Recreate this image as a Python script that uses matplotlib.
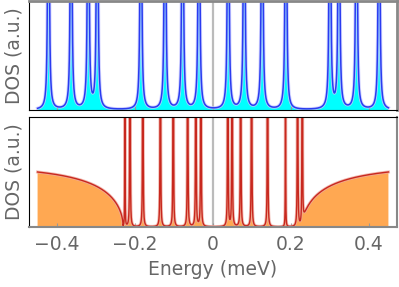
import numpy as np
import matplotlib
matplotlib.use("Agg")
import matplotlib.pyplot as plt

# peak energies (meV)
top_peaks = [-0.422, -0.364, -0.320, -0.297, -0.185, -0.123, -0.078, -0.036,
             0.039, 0.080, 0.126, 0.187, 0.300, 0.323, 0.368, 0.426]
bottom_peaks = [-0.213, -0.180, -0.135, -0.102, -0.065, -0.044, -0.031,
                0.038, 0.049, 0.071, 0.099, 0.140, 0.217, 0.229]
bottom_weak_peaks = [-0.226, 0.186]

# continuum: gap edge and height at band edge
gap = 0.231
cont_height = 0.5
e_min, e_max = -0.45, 0.45

# broadening / weight
top_gamma, top_amp = 0.001, 10.0
bot_gamma, bot_amp = 0.0003, 11.0
weak_gamma, weak_amp = 0.00015, 11.0

xticks = [-0.4, -0.2, 0, 0.2, 0.4]
xticklabels = ["\u22120.4", "\u22120.2", "0", "0.2", "0.4"]

E = np.linspace(e_min, e_max, 40001)


def lor(E, centers, gamma, amp):
    out = np.zeros_like(E)
    for c in centers:
        out += amp * gamma**2 / ((E - c)**2 + gamma**2)
    return out


dos_top = lor(E, top_peaks, top_gamma, top_amp)
cont = np.where(np.abs(E) > gap,
                cont_height * np.sqrt(np.clip(1 - gap**2 / np.maximum(E**2, 1e-12), 0, None)) / np.sqrt(1 - gap**2 / e_max**2),
                0.0)
dos_bot = cont + lor(E, bottom_peaks, bot_gamma, bot_amp) + lor(E, bottom_weak_peaks, weak_gamma, weak_amp)

W, H = 399, 287
fig = plt.figure(figsize=(W / 100, H / 100), dpi=100)
left, right = 29 / W, 397 / W
ax1 = fig.add_axes([left, 1 - 110 / H, right - left, 109 / H])
ax2 = fig.add_axes([left, 1 - 227 / H, right - left, 110 / H])

gray = "#666666"
for ax in (ax1, ax2):
    ax.set_xlim(-0.472, 0.472)
    ax.set_ylim(0, 1)
    ax.axvline(0, color="#bbbbbb", lw=1.6, zorder=0)
    ax.set_yticks([])
    ax.set_xticks(xticks)
    ax.tick_params(axis="x", direction="in", length=3, color="#999999", labelsize=13.5, labelcolor=gray, pad=6)
    ax.set_ylabel("DOS (a.u.)", fontsize=13.5, color=gray, labelpad=4)

ax1.fill_between(E, 0, dos_top, color="#00ffff", lw=0)
ax1.plot(E, dos_top, color="#c8c8ff", lw=2.4, alpha=0.8)
ax1.plot(E, dos_top, color="#2a3cf0", lw=1.1)
ax1.tick_params(labelbottom=False)

ax2.fill_between(E, 0, dos_bot, color="#ffa852", lw=0)
ax2.plot(E, dos_bot, color="#eeaaa0", lw=2.2, alpha=0.8)
ax2.plot(E, dos_bot, color="#c8281e", lw=1.0)
ax2.set_xticklabels(xticklabels)
ax2.set_xlabel("Energy (meV)", fontsize=13.5, color=gray, labelpad=4)

# frame colours
ax1.spines["left"].set_color("black")
ax1.spines["bottom"].set_color("black")
ax1.spines["top"].set_color("#888888")
ax1.spines["right"].set_color("#888888")
ax1.spines["top"].set_linewidth(2)
ax1.spines["right"].set_linewidth(2)
ax2.spines["left"].set_color("black")
ax2.spines["top"].set_color("black")
ax2.spines["bottom"].set_color("#888888")
ax2.spines["right"].set_color("#888888")
ax2.spines["bottom"].set_linewidth(1.5)
ax2.spines["right"].set_linewidth(1.5)

fig.savefig("out.png", dpi=100)
